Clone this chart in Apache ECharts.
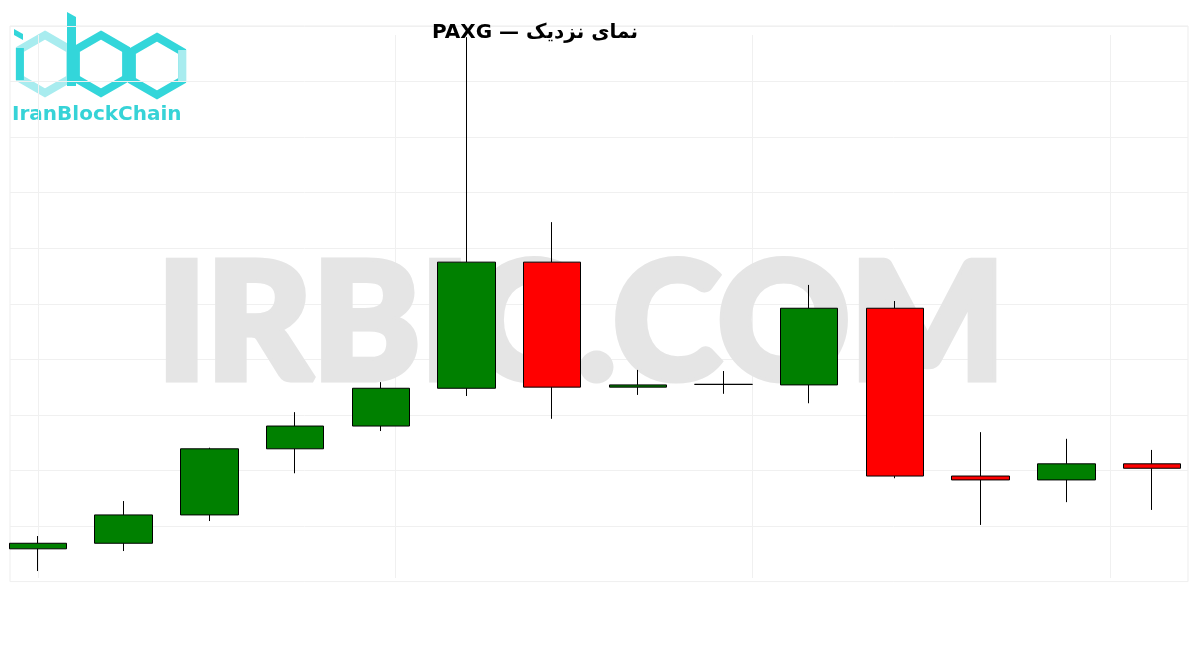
<!DOCTYPE html>
<html>
<head>
<meta charset="utf-8">
<title>PAXG</title>
<script src="https://cdn.jsdelivr.net/npm/echarts@6/dist/echarts.min.js"></script>
<style>
  html, body { margin: 0; padding: 0; background: #fff; }
  #chart { width: 1200px; height: 650px; }
</style>
</head>
<body>
<div id="chart"></div>
<script>
// candles: open, close, low, high
var days = ['1', '2', '3', '4', '5', '6', '7', '8', '9', '10', '11', '12', '13', '14']
var opens = [3305.9, 3306.9, 3312.0, 3323.9, 3328.0, 3334.8, 3357.5, 3335.0, 3335.5, 3335.4, 3349.2, 3319.0, 3318.3, 3321.2]
var closes = [3306.9, 3312.0, 3323.9, 3328.0, 3334.8, 3357.5, 3335.0, 3335.4, 3335.5, 3349.2, 3319.0, 3318.3, 3321.2, 3320.4]
var lows = [3301.9, 3305.5, 3310.9, 3319.5, 3327.1, 3333.4, 3329.3, 3333.6, 3333.8, 3332.1, 3318.6, 3310.2, 3314.3, 3312.9]
var highs = [3308.2, 3314.5, 3324.1, 3330.5, 3335.9, 3398.0, 3364.7, 3338.1, 3337.9, 3353.4, 3350.5, 3326.9, 3325.7, 3323.7]
var titleText = '\u202Bنمای نزدیک — PAXG\u202C'

var candles = []
for (var i = 0; i < days.length; i++) {
  candles.push([opens[i], closes[i], lows[i], highs[i]])
}

var dark = '#33d6da'
var light = '#a8ecef'

function hex(cx, cy, r) {
  var h = r * 0.866
  return [[cx, cy - r], [cx + h, cy - r / 2], [cx + h, cy + r / 2], [cx, cy + r], [cx - h, cy + r / 2], [cx - h, cy - r / 2]]
}

var chart = echarts.init(document.getElementById('chart'))
var option = {
  backgroundColor: '#fff',
  animation: false,
  grid: [
    { left: 38, right: 48, top: 26, bottom: 68.4 },
    { left: 38, right: 90, top: 35, bottom: 72 },
    { left: 10, right: 12, top: 26, bottom: 68.4, show: true, borderColor: '#ededed', borderWidth: 1, backgroundColor: 'transparent' }
  ],
  xAxis: [
    {
      type: 'category',
      gridIndex: 0,
      data: days,
      boundaryGap: false,
      axisLine: { show: false },
      axisTick: { show: false },
      axisLabel: { show: false },
      splitLine: { show: false }
    },
    {
      type: 'value',
      gridIndex: 1,
      min: 0,
      max: 3,
      interval: 1,
      axisLine: { show: false },
      axisTick: { show: false },
      axisLabel: { show: false },
      splitLine: { show: true, lineStyle: { color: '#f0f0f0', width: 1 } }
    },
    { type: 'value', gridIndex: 2, show: false }
  ],
  yAxis: [
    {
      type: 'value',
      gridIndex: 0,
      min: 3300,
      max: 3400,
      interval: 10,
      axisLine: { show: false },
      axisTick: { show: false },
      axisLabel: { show: false },
      splitLine: { show: false }
    },
    { type: 'value', gridIndex: 1, show: false, splitLine: { show: false } },
    {
      type: 'value',
      gridIndex: 2,
      min: 3300,
      max: 3400,
      interval: 10,
      axisLine: { show: false },
      axisTick: { show: false },
      axisLabel: { show: false },
      splitLine: { show: true, lineStyle: { color: '#f0f0f0', width: 1 } }
    }
  ],
  graphic: [
    {
      type: 'text',
      z: 1,
      x: 581,
      y: 326,
      style: {
        text: 'IRBIC.COM',
        fill: '#e5e5e5',
        stroke: '#e5e5e5',
        lineWidth: 7,
        font: '900 163px Lato, "DejaVu Sans", sans-serif',
        textAlign: 'center',
        textVerticalAlign: 'middle'
      }
    },
    {
      type: 'text',
      z: 10,
      x: 535,
      y: 33,
      style: {
        text: titleText,
        fill: '#000',
        font: 'bold 20px "DejaVu Sans", sans-serif',
        textAlign: 'center',
        textVerticalAlign: 'middle'
      }
    },
    {
      type: 'group',
      z: 10,
      children: [
        { type: 'polygon', shape: { points: hex(45, 64, 29) }, style: { fill: 'none', stroke: light, lineWidth: 8 } },
        { type: 'line', shape: { x1: 19.9, y1: 48, x2: 19.9, y2: 80 }, style: { stroke: dark, lineWidth: 8 } },
        { type: 'polygon', shape: { points: hex(101, 64, 29) }, style: { fill: 'none', stroke: dark, lineWidth: 8 } },
        { type: 'polygon', shape: { points: hex(157, 66, 29) }, style: { fill: 'none', stroke: dark, lineWidth: 8 } },
        { type: 'line', shape: { x1: 182.1, y1: 50, x2: 182.1, y2: 82 }, style: { stroke: light, lineWidth: 8 } },
        { type: 'polygon', shape: { points: [[67, 12], [76, 17], [76, 86], [67, 86]] }, style: { fill: dark } },
        { type: 'polygon', shape: { points: [[14, 29], [23, 34], [23, 40], [14, 35]] }, style: { fill: dark } },
        {
          type: 'text',
          x: 12,
          y: 115,
          style: {
            text: 'IranBlockChain',
            fill: '#36d3d7',
            font: 'bold 20px "DejaVu Sans", sans-serif',
            textVerticalAlign: 'middle'
          }
        }
      ]
    }
  ],
  series: [
    {
      type: 'candlestick',
      xAxisIndex: 0,
      yAxisIndex: 0,
      z: 5,
      barWidth: 58,
      data: candles,
      itemStyle: {
        color: '#008000',
        color0: '#ff0000',
        borderColor: '#000',
        borderColor0: '#000',
        borderColorDoji: '#000',
        borderWidth: 1
      }
    }
  ]
}
chart.setOption(option)
</script>
</body>
</html>
